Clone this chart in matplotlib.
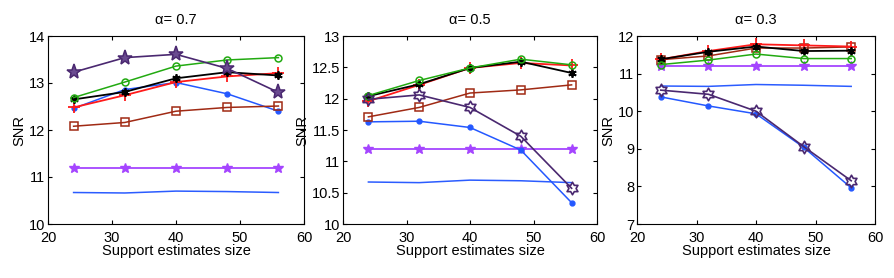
import matplotlib
matplotlib.use("Agg")
import matplotlib.pyplot as plt
import numpy as np
from matplotlib.path import Path

plt.rcParams['font.family'] = ['Liberation Sans', 'DejaVu Sans']

x = [24, 32, 40, 48, 56]
titles = ["α= 0.7", "α= 0.5", "α= 0.3"]
ylims = [(10, 14), (10, 13), (7, 12)]
yticks = [[10, 11, 12, 13, 14], [10, 10.5, 11, 11.5, 12, 12.5, 13], [7, 8, 9, 10, 11, 12]]
ytlabels = [["10", "11", "12", "13", "14"],
            ["10", "10.5", "11", "11.5", "12", "12.5", "13"],
            ["7", "8", "9", "10", "11", "12"]]
xticks = [20, 30, 40, 50, 60]

# series per panel
star_purple = [[13.23, 13.54, 13.61, 13.31, 12.80],
               [11.99, 12.06, 11.86, 11.40, 10.57],
               [10.56, 10.45, 10.00, 9.06, 8.15]]
green_circle = [[12.69, 13.02, 13.36, 13.49, 13.54],
                [12.05, 12.29, 12.49, 12.63, 12.54],
                [11.24, 11.36, 11.52, 11.40, 11.40]]
black_ast = [[12.65, 12.81, 13.10, 13.23, 13.16],
             [12.04, 12.23, 12.49, 12.59, 12.41],
             [11.38, 11.58, 11.72, 11.60, 11.61]]
red_plus = [[12.48, 12.74, 13.02, 13.14, 13.21],
            [11.96, 12.22, 12.49, 12.57, 12.53],
            [11.38, 11.60, 11.78, 11.75, 11.72]]
blue_dot = [[12.46, 12.86, 13.01, 12.77, 12.40],
            [11.63, 11.64, 11.54, 11.18, 10.34],
            [10.38, 10.14, 9.93, 9.04, 7.96]]
brown_sq = [[12.08, 12.16, 12.40, 12.48, 12.51],
            [11.71, 11.86, 12.09, 12.14, 12.22],
            [11.37, 11.47, 11.68, 11.68, 11.71]]
violet_star = [[11.2, 11.2, 11.2, 11.2, 11.2],
               [11.2, 11.2, 11.2, 11.2, 11.2],
               [11.2, 11.2, 11.2, 11.2, 11.2]]
blue_line = [[10.67, 10.66, 10.70, 10.69, 10.67],
             [10.67, 10.66, 10.70, 10.69, 10.66],
             [10.67, 10.66, 10.71, 10.69, 10.66]]

# hexagram marker path
ang = np.deg2rad(90 + 30 * np.arange(12))
rad = np.where(np.arange(12) % 2 == 0, 1.0, 1 / np.sqrt(3))
verts = np.column_stack([rad * np.cos(ang), rad * np.sin(ang)])
verts = np.vstack([verts, verts[:1]])
codes = [Path.MOVETO] + [Path.LINETO] * 11 + [Path.CLOSEPOLY]
hexagram = Path(verts, codes)

fig = plt.figure(figsize=(8.94, 2.78), dpi=100)
W, H = 894, 278
boxes = [(48, 304), (343, 597), (637, 875)]
top, bot = 36, 224

asterisk = (6, 2, 0)
for i, (l, r) in enumerate(boxes):
    ax = fig.add_axes([l / W, 1 - bot / H, (r - l) / W, (bot - top) / H])
    ax.plot(x, blue_line[i], color='#2b5cff', lw=1.1)
    ax.plot(x, violet_star[i], color='#a545ff', lw=1.3, marker='*', ms=7,
            mfc='#a545ff', mec='#a545ff')
    ax.plot(x, blue_dot[i], color='#2458ff', lw=1.1, marker='o', ms=3.5,
            mfc='#2458ff', mec='#2458ff')
    ax.plot(x, brown_sq[i], color='#a02a14', lw=1.1, marker='s', ms=6,
            mfc='none', mec='#a02a14', mew=1.1)
    ax.plot(x, red_plus[i], color='#ff1a1a', lw=1.3, marker='+', ms=8,
            mec='#ff1a1a', mew=1.3)
    ax.plot(x, black_ast[i], color='black', lw=1.3, marker=asterisk, ms=6,
            mec='black', mew=1.3)
    ax.plot(x, green_circle[i], color='#22aa11', lw=1.1, marker='o', ms=5,
            mfc='none', mec='#22aa11', mew=1.1)
    if i == 0:
        ax.plot(x, star_purple[i], color='#4a2870', lw=1.2, marker='*', ms=11,
                mfc='#6a4a90', mec='#4a2870', mew=1.1)
    else:
        ax.plot(x, star_purple[i], color='#4a2870', lw=1.2, marker=hexagram, ms=9,
                mfc='none', mec='#4a2870', mew=1.2)
    ax.set_xlim(20, 60)
    ax.set_ylim(*ylims[i])
    ax.set_xticks(xticks)
    ax.set_yticks(yticks[i])
    ax.set_yticklabels(ytlabels[i])
    ax.tick_params(direction='in', top=True, right=True, labelsize=10.5, length=3)
    ax.tick_params(axis='x', pad=5)
    ax.tick_params(axis='y', pad=2)
    ax.set_title(titles[i], fontsize=10.5, pad=9)
    ax.set_xlabel("Support estimates size", fontsize=10.5, labelpad=-1)
    ax.set_ylabel("SNR", fontsize=10.5, labelpad=2)
    for s in ax.spines.values():
        s.set_linewidth(0.8)

fig.savefig("out.png", dpi=100)
